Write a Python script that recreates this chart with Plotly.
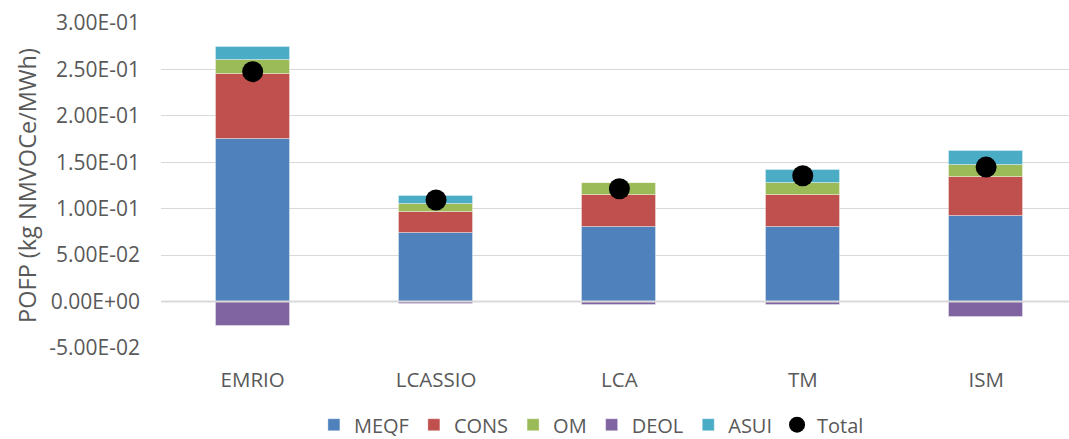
import plotly.graph_objects as go

# Life-cycle stages per assessment method (kg NMVOCe/MWh)
categories = ["EMRIO", "LCASSIO", "LCA", "TM", "ISM"]
meqf = [0.175, 0.0742, 0.0799, 0.0799, 0.0925]
cons = [0.0702, 0.0223, 0.0344, 0.0344, 0.0412]
om = [0.0150, 0.0082, 0.0137, 0.0137, 0.0137]
deol = [-0.0258, -0.0030, -0.0040, -0.0040, -0.0161]
asui = [0.0143, 0.0086, 0.0, 0.0140, 0.0150]
total = [0.2476, 0.1094, 0.1215, 0.1355, 0.1448]

y_tickvals = [-0.05, 0.0, 0.05, 0.10, 0.15, 0.20, 0.25, 0.30]
y_ticktext = ["-5.00E-02", "0.00E+00", "5.00E-02", "1.00E-01",
              "1.50E-01", "2.00E-01", "2.50E-01", "3.00E-01"]

font_family = "Open Sans"
text_color = "#595959"
grid_color = "#D9D9D9"
bar_width = 0.404

series = [
    ("MEQF", meqf, "#4F81BD"),
    ("CONS", cons, "#C0504D"),
    ("OM", om, "#9BBB59"),
    ("DEOL", deol, "#8064A2"),
    ("ASUI", asui, "#4BACC6"),
]

fig = go.Figure()
for name, values, color in series:
    fig.add_trace(go.Bar(
        name=name, x=categories, y=values, width=bar_width,
        marker=dict(color=color, line=dict(color="rgba(255,255,255,0.35)", width=1)),
    ))

fig.add_trace(go.Scatter(
    name="Total", x=categories, y=total, mode="markers",
    marker=dict(color="black", size=21),
))

fig.update_layout(
    width=1069, height=439,
    barmode="relative",
    bargap=0,
    plot_bgcolor="white", paper_bgcolor="white",
    margin=dict(l=161, r=0, t=23, b=91, autoexpand=False),
    font=dict(family=font_family, color=text_color, size=20),
    showlegend=True,
    legend=dict(
        orientation="h", x=0.474, xanchor="center", y=-0.236, yanchor="middle",
        font=dict(size=20, color=text_color), itemwidth=30, tracegroupgap=0,
        traceorder="normal",
    ),
    xaxis=dict(
        range=[-0.5, 4.452], showgrid=False, zeroline=False, showline=False,
        ticks="", ticklabelstandoff=17, automargin=False,
        tickfont=dict(size=20.5, color=text_color),
    ),
    yaxis=dict(
        range=[-0.05, 0.30], tickvals=y_tickvals, ticktext=y_ticktext,
        showgrid=True, gridcolor=grid_color, gridwidth=1,
        zeroline=False, showline=False, ticks="", ticklabelstandoff=20,
        automargin=False,
        tickfont=dict(size=21, color=text_color),
        title=dict(text="POFP (kg NMVOCe/MWh)", standoff=6,
                   font=dict(size=23.5, color=text_color)),
    ),
)

# horizontal axis line at zero, drawn over the bars
fig.add_shape(type="line", xref="paper", yref="y", x0=0, x1=1, y0=0, y1=0,
              line=dict(color=grid_color, width=2), layer="above")

fig.write_html("out.html")
